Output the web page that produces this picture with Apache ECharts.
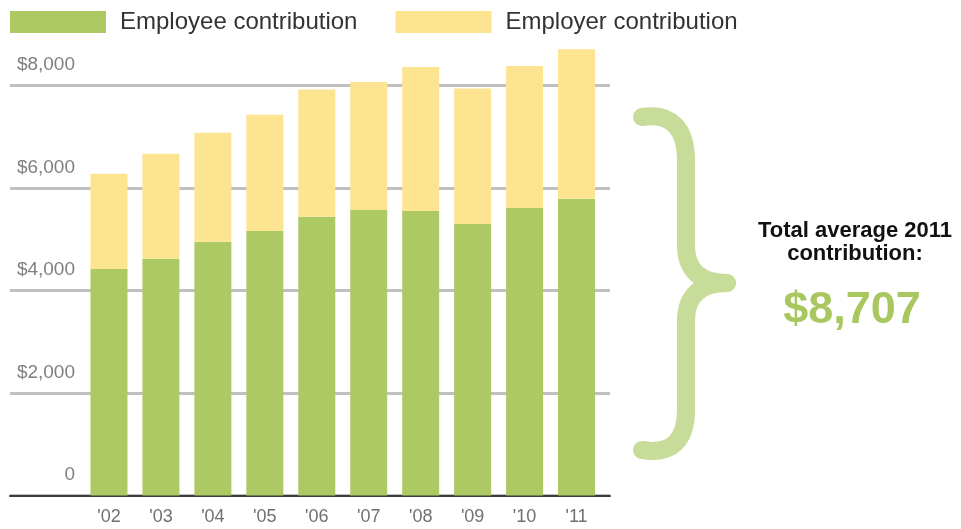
<!DOCTYPE html>
<html>
<head>
<meta charset="utf-8">
<script src="https://cdn.jsdelivr.net/npm/echarts@6/dist/echarts.min.js"></script>
<style>
html,body{margin:0;padding:0;background:#fff;}
#chart{width:961px;height:529px;}
</style>
</head>
<body>
<div id="chart"></div>
<script>
var years = ["'02","'03","'04","'05","'06","'07","'08","'09","'10","'11"];
var employee = [4420, 4620, 4950, 5160, 5440, 5570, 5550, 5300, 5610, 5790];
var employer = [1860, 2050, 2130, 2270, 2480, 2500, 2810, 2640, 2770, 2917];
var yTickLabels = ['0', '$2,000', '$4,000', '$6,000', '$8,000'];
var seriesNames = ['Employee contribution', 'Employer contribution'];
var calloutLines = ['Total average 2011', 'contribution:', '$8,707'];

var FONT = '"Liberation Sans", Arial, Helvetica, sans-serif';
var GREEN = '#adc964';
var YELLOW = '#fde490';
var BRACE = '#c7dc98';

var braceStyle = {fill: null, stroke: BRACE, lineWidth: 18, lineCap: 'round', lineJoin: 'round'};
function bez(x1, y1, c1x, c1y, c2x, c2y, x2, y2) {
  return {type: 'bezierCurve', silent: true,
    shape: {x1: x1, y1: y1, cpx1: c1x, cpy1: c1y, cpx2: c2x, cpy2: c2y, x2: x2, y2: y2},
    style: braceStyle};
}
function seg(x1, y1, x2, y2) {
  return {type: 'line', silent: true, shape: {x1: x1, y1: y1, x2: x2, y2: y2}, style: braceStyle};
}

var chart = echarts.init(document.getElementById('chart'), null, {renderer: 'canvas'});

var Y_MAX = 9600;
var GRID_TOP = 3.5;
var GRID_BOTTOM = 33.5;

var option = {
  backgroundColor: '#ffffff',
  animation: false,
  textStyle: {fontFamily: FONT},
  legend: {
    left: 5, top: 5,
    itemWidth: 96, itemHeight: 22, itemGap: 38,
    icon: 'rect',
    data: seriesNames,
    textStyle: {fontSize: 24, color: '#333333', fontFamily: FONT, padding: [0, 0, 0, 9]}
  },
  grid: [
    {left: 83, right: 358.5, top: GRID_TOP, bottom: GRID_BOTTOM, containLabel: false, outerBoundsMode: 'none'},
    {left: 10, right: 351, top: GRID_TOP, bottom: GRID_BOTTOM, containLabel: false, outerBoundsMode: 'none'}
  ],
  xAxis: [
    {
      type: 'category', gridIndex: 0, data: years,
      axisLine: {show: false}, axisTick: {show: false},
      axisLabel: {margin: 13, fontSize: 18, color: '#707070', fontFamily: FONT}
    },
    {
      type: 'value', gridIndex: 1, min: 0, max: 1,
      axisLine: {show: true, lineStyle: {color: '#3a3a3a', width: 2}},
      axisTick: {show: false}, axisLabel: {show: false}, splitLine: {show: false}
    }
  ],
  yAxis: [
    {
      type: 'value', gridIndex: 0, min: 0, max: Y_MAX, interval: 2000,
      axisLine: {show: false}, axisTick: {show: false},
      axisLabel: {show: false}, splitLine: {show: false}
    },
    {
      type: 'value', gridIndex: 1, min: 0, max: Y_MAX, interval: 2000,
      axisLine: {show: false}, axisTick: {show: false},
      axisLabel: {
        inside: true, margin: 65, align: 'right', verticalAlign: 'middle',
        lineHeight: 41,
        fontSize: 19, color: '#808080', fontFamily: FONT,
        showMaxLabel: false,
        formatter: function (v) {
          var i = Math.round(v / 2000);
          if (v % 2000 !== 0 || i >= yTickLabels.length) return '';
          return yTickLabels[i] + '\n ';
        }
      },
      splitLine: {show: true, showMaxLine: false, lineStyle: {color: '#c0c0c0', width: 3}}
    }
  ],
  series: [
    {
      name: seriesNames[0], type: 'bar', stack: 'total', xAxisIndex: 0, yAxisIndex: 0,
      barWidth: 37, data: employee, itemStyle: {color: GREEN}
    },
    {
      name: seriesNames[1], type: 'bar', stack: 'total', xAxisIndex: 0, yAxisIndex: 0,
      barWidth: 37, data: employer, itemStyle: {color: YELLOW}
    }
  ],
  graphic: [
    bez(642, 117, 672, 112, 686, 130, 686, 160),
    seg(686, 160, 686, 245),
    bez(686, 245, 686, 270, 700, 283, 727, 283),
    bez(727, 283, 700, 283, 686, 296, 686, 321),
    seg(686, 321, 686, 410),
    bez(686, 410, 686, 440, 672, 455, 642, 450),
    {
      type: 'text', x: 855, y: 231, silent: true,
      style: {text: calloutLines[0], textAlign: 'center', textVerticalAlign: 'middle',
        font: 'bold 22px ' + FONT, fill: '#111111'}
    },
    {
      type: 'text', x: 855, y: 254, silent: true,
      style: {text: calloutLines[1], textAlign: 'center', textVerticalAlign: 'middle',
        font: 'bold 22px ' + FONT, fill: '#111111'}
    },
    {
      type: 'text', x: 852, y: 311, silent: true,
      style: {text: calloutLines[2], textAlign: 'center', textVerticalAlign: 'middle',
        font: 'bold 45px ' + FONT, fill: '#a8c75e'}
    }
  ]
};
chart.setOption(option);
</script>
</body>
</html>
